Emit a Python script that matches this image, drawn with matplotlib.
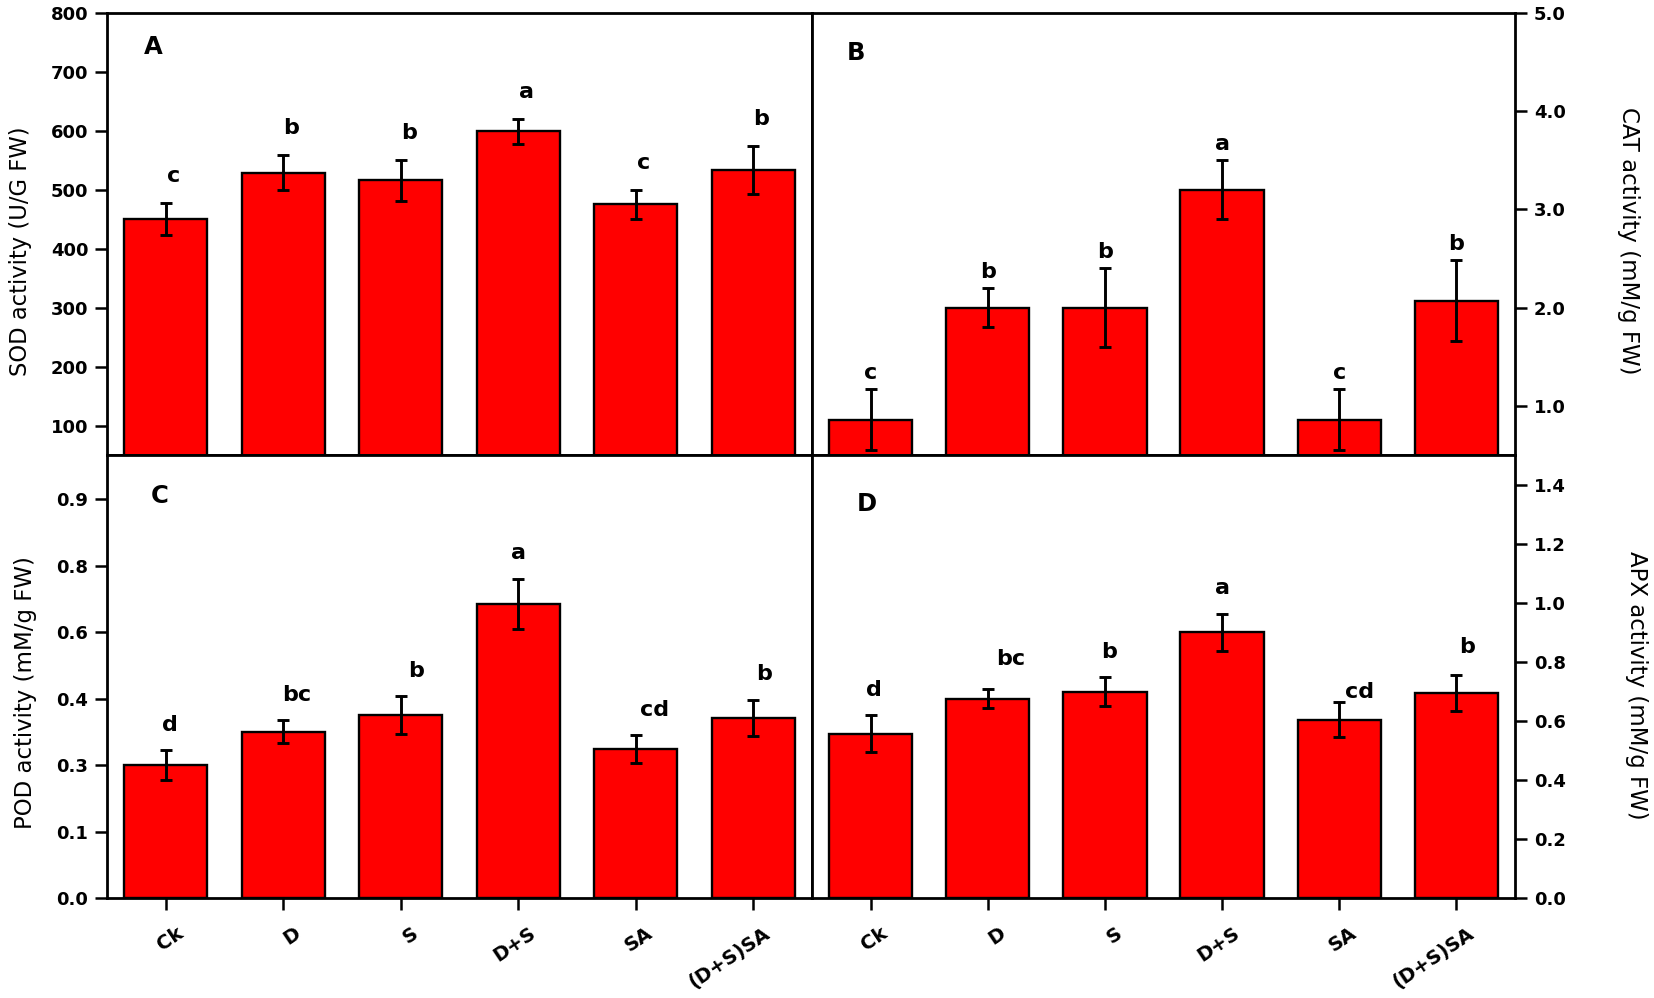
import numpy as np
import matplotlib
matplotlib.use('Agg')
import matplotlib.pyplot as plt
from matplotlib.ticker import FixedLocator, FormatStrFormatter
from matplotlib.transforms import ScaledTranslation

plt.rcParams['font.family'] = ['DejaVu Sans']
plt.rcParams['font.weight'] = 'bold'

groups = ['Ck', 'D', 'S', 'D+S', 'SA', '(D+S)SA']

sod_mean = [450, 529, 516, 599, 475, 533]
sod_err = [27, 29, 35, 21, 25, 41]
sod_letters = ['c', 'b', 'b', 'a', 'c', 'b']

cat_mean = [0.86, 2.0, 2.0, 3.2, 0.86, 2.07]
cat_err = [0.31, 0.20, 0.40, 0.30, 0.31, 0.41]
cat_letters = ['c', 'b', 'b', 'a', 'c', 'b']

pod_mean = [0.30, 0.375, 0.413, 0.664, 0.337, 0.406]
pod_err = [0.033, 0.026, 0.043, 0.056, 0.032, 0.041]
pod_letters = ['d', 'bc', 'b', 'a', 'cd', 'b']

apx_mean = [0.556, 0.675, 0.699, 0.899, 0.604, 0.694]
apx_err = [0.062, 0.032, 0.050, 0.063, 0.059, 0.061]
apx_letters = ['d', 'bc', 'b', 'a', 'cd', 'b']

W, H = 1654, 998
fig = plt.figure(figsize=(W / 100, H / 100), dpi=100)


def rect(x0, y0, x1, y1):
    return [x0 / W, 1 - y1 / H, (x1 - x0) / W, (y1 - y0) / H]


axA = fig.add_axes(rect(107, 12.7, 812, 455))
axB = fig.add_axes(rect(812, 12.7, 1515, 455))
axC = fig.add_axes(rect(107, 455, 812, 898))
axD = fig.add_axes(rect(812, 455, 1515, 898))


def draw_panel(ax, mean, err, letters, dx, dy):
    x = np.arange(len(groups))
    ax.bar(x, mean, width=0.71, color='#ff0000', edgecolor='black',
           linewidth=1.7, zorder=2)
    ax.errorbar(x, mean, yerr=err, fmt='none', ecolor='black',
                elinewidth=2.1, capsize=4.3, capthick=2.1, zorder=3)
    for i in range(len(groups)):
        ax.annotate(letters[i], (x[i], mean[i] + err[i]),
                    xytext=(dx[i], dy[i]), textcoords='offset pixels',
                    ha='center', va='baseline', fontsize=16,
                    fontweight='bold')
    ax.set_xlim(-0.5, 5.5)
    for s in ax.spines.values():
        s.set_linewidth(2.0)
    ax.tick_params(axis='both', direction='out', length=8.5, width=1.8,
                   labelsize=13)


draw_panel(axA, sod_mean, sod_err, sod_letters, [8] * 6, [21] * 6)
draw_panel(axB, cat_mean, cat_err, cat_letters, [0] * 6, [10] * 6)
draw_panel(axC, pod_mean, pod_err, pod_letters,
           [4, 13, 15, 0, 19, 11], [19, 19, 19, 20, 19, 20])
draw_panel(axD, apx_mean, apx_err, apx_letters,
           [3, 23, 4, 0, 20, 11], [19, 24, 19, 20, 4, 22])

# panel A
axA.set_ylim(50, 800)
axA.set_yticks(np.arange(100, 801, 100))
axA.tick_params(axis='y', left=True, right=False, pad=5)
axA.tick_params(axis='x', bottom=False, labelbottom=False)
axA.set_ylabel('SOD activity (U/G FW)', fontsize=16.3, fontweight='normal')
axA.yaxis.set_label_coords(-0.107, 0.46)
axA.text(0.065, 0.922, 'A', transform=axA.transAxes, fontsize=17.5,
         ha='center', va='center')

# panel B
axB.set_ylim(0.5, 5.0)
axB.set_yticks(np.arange(1.0, 5.01, 1.0))
axB.yaxis.set_major_formatter(FormatStrFormatter('%.1f'))
axB.yaxis.tick_right()
axB.tick_params(axis='y', pad=5)
axB.tick_params(axis='x', bottom=False, labelbottom=False)
axB.yaxis.set_label_position('right')
axB.set_ylabel('CAT activity (mM/g FW)', fontsize=16.5, fontweight='normal',
               rotation=270, va='bottom')
axB.yaxis.set_label_coords(1.145, 0.484)
axB.text(0.0626, 0.91, 'B', transform=axB.transAxes, fontsize=17.5,
         ha='center', va='center')

# panel C
axC.set_ylim(0, 1.0)
axC.yaxis.set_major_locator(FixedLocator(np.arange(0, 0.91, 0.15)))
axC.yaxis.set_major_formatter(FormatStrFormatter('%.1f'))
axC.tick_params(axis='y', left=True, right=False, pad=5)
axC.set_ylabel('POD activity (mM/g FW)', fontsize=16.5, fontweight='normal')
axC.yaxis.set_label_coords(-0.099, 0.463)
axC.text(0.075, 0.907, 'C', transform=axC.transAxes, fontsize=17.5,
         ha='center', va='center')

# panel D
axD.set_ylim(0, 1.5)
axD.set_yticks(np.arange(0, 1.41, 0.2))
axD.yaxis.set_major_formatter(FormatStrFormatter('%.1f'))
axD.yaxis.tick_right()
axD.tick_params(axis='y', pad=5)
axD.yaxis.set_label_position('right')
axD.set_ylabel('APX activity (mM/g FW)', fontsize=16.5, fontweight='normal',
               rotation=270, va='bottom')
axD.yaxis.set_label_coords(1.156, 0.481)
axD.text(0.078, 0.89, 'D', transform=axD.transAxes, fontsize=17.5,
         ha='center', va='center')

shift = ScaledTranslation(0.10, 0, fig.dpi_scale_trans)
for ax in (axC, axD):
    ax.set_xticks(np.arange(len(groups)))
    ax.set_xticklabels(groups, rotation=34, ha='right', va='top',
                       rotation_mode='anchor', fontsize=14)
    ax.tick_params(axis='x', pad=10)
    for lbl in ax.get_xticklabels():
        lbl.set_transform(lbl.get_transform() + shift)

fig.savefig('out.png', dpi=100)
